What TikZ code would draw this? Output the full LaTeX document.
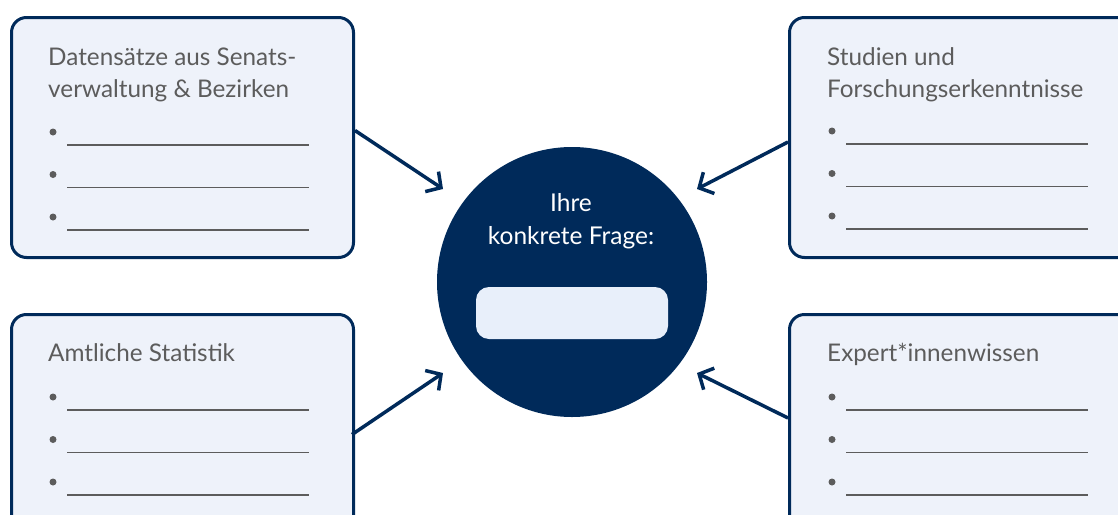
\documentclass[tikz,border=0pt]{standalone}
\usepackage{fontspec}
\setmainfont{Lato}
\usetikzlibrary{arrows.meta}
\definecolor{navy}{HTML}{002A5A}
\definecolor{boxfill}{HTML}{EEF2FA}
\definecolor{slotfill}{HTML}{E8EFFA}
\definecolor{txt}{HTML}{5C5C5C}
\tikzset{
  x=1pt, y=-1pt,
  source/.style={draw=navy, line width=3pt, fill=boxfill, rounded corners=15pt,
    anchor=north west, inner sep=0pt},
  head/.style={anchor=base west, inner sep=0pt, text=txt, font=\fontsize{24.3}{24.3}\selectfont},
  blank/.style={draw=txt, line width=1.6pt},
  dot/.style={circle, fill=txt, inner sep=0pt, minimum size=7pt},
  feed/.style={draw=navy, line width=3.5pt, -{Straight Barb[length=11pt, width=24pt, line width=3.5pt]}},
}
\newcommand{\blanks}[3]{% x of dot, y of first dot, name prefix
  \foreach \k in {0,1,2}{
    \node[dot] (#3d\k) at (#1, #2 + 42.5*\k) {};
    \coordinate (#3a\k) at (#1+14, #2 + 13 + 42.5*\k);
    \coordinate (#3b\k) at (#1+256, #2 + 13 + 42.5*\k);
    \draw[blank] (#3a\k) -- (#3b\k);
  }}
\begin{document}
\begin{tikzpicture}
\useasboundingbox (0,0) rectangle (1118,514);
\clip (0,0) rectangle (1118,514);

% source boxes
\node[source, minimum width=342pt, minimum height=240pt] (tl) at (10,16) {};
\node[source, minimum width=360pt, minimum height=240pt] (tr) at (788,16) {};
\node[source, minimum width=342pt, minimum height=240pt] (bl) at (10,313) {};
\node[source, minimum width=360pt, minimum height=240pt] (br) at (788,313) {};

% headings
\node[head] (tlh1) at (48,65) {Datensätze aus Senats-};
\node[head] (tlh2) at (48,97) {verwaltung \& Bezirken};
\node[head] (trh1) at (827,65) {Studien und};
\node[head] (trh2) at (827,97) {Forschungserkenntnisse};
\node[head] (blh) at (48,361) {Amtliche Statistik};
\node[head] (brh) at (827,361) {Expert*innenwissen};

% blank lines to fill in
\blanks{53}{132}{tl}
\blanks{832}{131}{tr}
\blanks{53}{397}{bl}
\blanks{832}{397}{br}

% central question
\node[circle, fill=navy, minimum size=270pt, inner sep=0pt] (q) at (572,282) {};
\node[text=white, font=\fontsize{24.5}{24.5}\selectfont, anchor=base] (q1) at (571,211) {Ihre};
\node[text=white, font=\fontsize{24.5}{24.5}\selectfont, anchor=base] (q2) at (571,244) {konkrete Frage:};
\node[fill=slotfill, rounded corners=13pt, minimum width=192pt, minimum height=52pt, inner sep=0pt] (slot) at (572,313) {};

% arrows into the circle
\coordinate (ttl) at (443,189);
\coordinate (ttr) at (697,189);
\coordinate (tbl) at (443,373);
\coordinate (tbr) at (697,373);
\draw[feed] ([yshift=7pt]tl.east) -- (ttl);
\draw[feed] (tr.west |- 0,142) -- (ttr);
\draw[feed] (bl.west -| 352,418) -- (tbl);
\draw[feed] (br.west |- 0,418) -- (tbr);
\end{tikzpicture}
\end{document}
